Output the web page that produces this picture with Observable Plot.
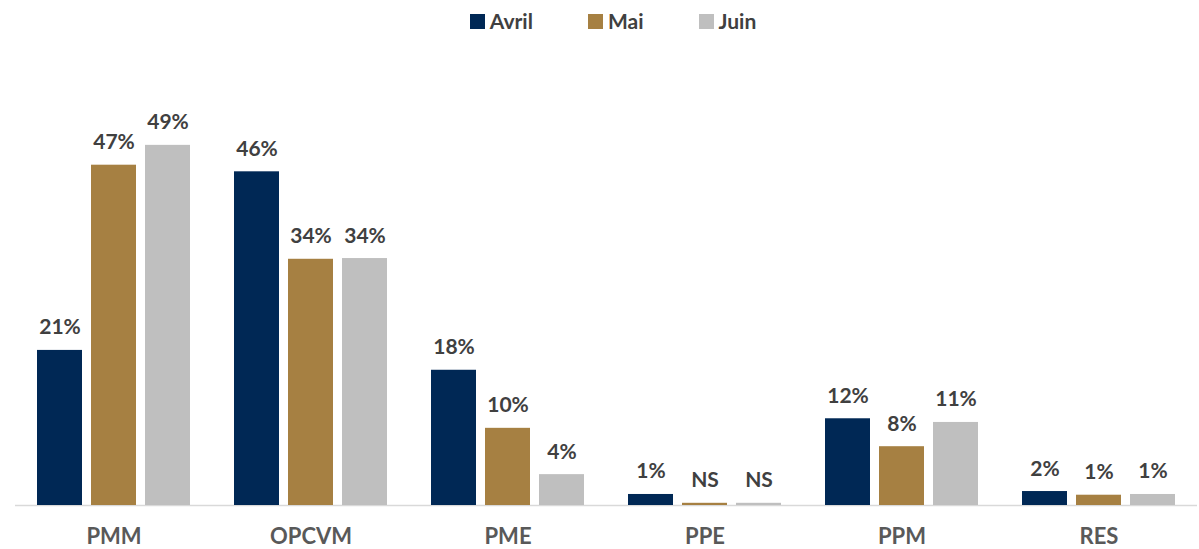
<!DOCTYPE html>
<html>
<head>
<meta charset="utf-8">
<script src="https://cdn.jsdelivr.net/npm/d3@7"></script>
<script src="https://cdn.jsdelivr.net/npm/@observablehq/plot@0.6"></script>
<style>
  html, body { margin: 0; padding: 0; background: #fff; }
  #wrap { position: relative; width: 1199px; height: 549px; }
  #legend { position: absolute; top: 10px; left: 0; width: 1199px; display: flex; justify-content: center; gap: 55px;
    font-family: Lato, "Open Sans", sans-serif; font-weight: 700; font-size: 21px; line-height: 22px; color: #404040; padding-left: 27px; box-sizing: border-box; }
  #legend .item { display: flex; align-items: center; gap: 5px; }
  #legend .sw { width: 15px; height: 15px; display: inline-block; }
</style>
</head>
<body>
<div id="wrap">
  <div id="legend"></div>
  <div id="chart"></div>
</div>
<script>
const categories = ["PMM", "OPCVM", "PME", "PPE", "PPM", "RES"];
const series = ["Avril", "Mai", "Juin"];
const colors = ["#002855", "#A68042", "#BFBFBF"];
const avril = [21.1, 45.4, 18.4, 1.5, 11.8, 1.9];
const mai = [46.3, 33.5, 10.5, 0.3, 8.0, 1.4];
const juin = [49.0, 33.6, 4.2, 0.3, 11.3, 1.5];
const avrilLabels = ["21%", "46%", "18%", "1%", "12%", "2%"];
const maiLabels = ["47%", "34%", "10%", "NS", "8%", "1%"];
const juinLabels = ["49%", "34%", "4%", "NS", "11%", "1%"];

const valueSets = [avril, mai, juin];
const labelSets = [avrilLabels, maiLabels, juinLabels];
const data = [];
categories.forEach((c, i) => {
  series.forEach((s, j) => {
    data.push({category: c, series: s, value: valueSets[j][i], label: labelSets[j][i]});
  });
});

const legend = document.getElementById("legend");
series.forEach((s, j) => {
  const it = document.createElement("div");
  it.className = "item";
  it.innerHTML = `<span class="sw" style="background:${colors[j]}"></span><span>${s}</span>`;
  legend.appendChild(it);
});

const chart = Plot.plot({
  width: 1199,
  height: 549,
  marginTop: 64,
  marginBottom: 44,
  marginLeft: 12,
  marginRight: 0,
  style: {fontFamily: "Lato, 'Open Sans', sans-serif", background: "transparent"},
  fx: {domain: categories, padding: 0, label: null},
  x: {domain: series, paddingInner: 0.164, paddingOuter: 0.382, axis: null},
  y: {domain: [0, 60], axis: null},
  color: {domain: series, range: colors},
  marks: [
    Plot.ruleY([0], {stroke: "#D9D9D9", strokeWidth: 1.5}),
    Plot.barY(data, {fx: "category", x: "series", y: "value", fill: "series"}),
    Plot.text(data, {fx: "category", x: "series", y: "value", text: "label", lineAnchor: "bottom", dy: -16,
      fill: "#404040", fontSize: 21, fontWeight: 700}),
    Plot.axisFx({anchor: "bottom", tickSize: 0, tickPadding: 23, fontSize: 22, fontWeight: 700, fill: "#595959", label: null})
  ]
});
document.getElementById("chart").appendChild(chart);
</script>
</body>
</html>
